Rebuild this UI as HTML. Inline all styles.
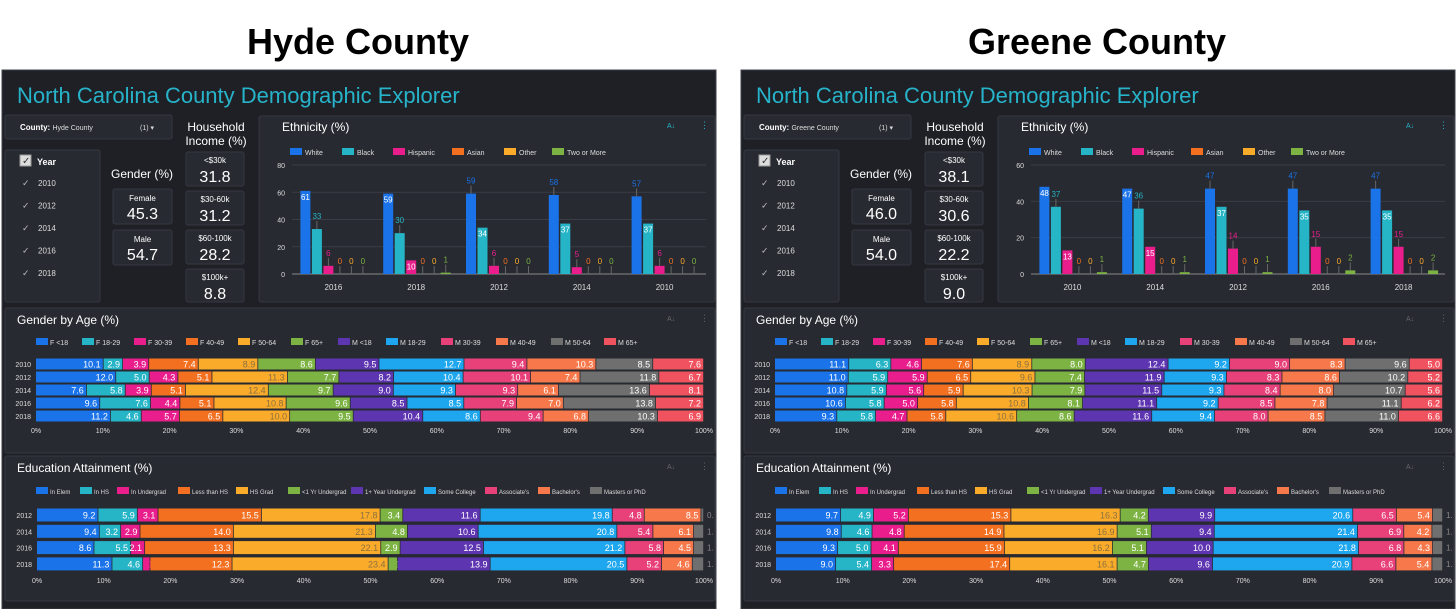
<!DOCTYPE html>
<html><head><meta charset="utf-8">
<style>
html,body{margin:0;padding:0;background:#fff;width:1456px;height:609px;overflow:hidden;font-family:"Liberation Sans",sans-serif}
svg{display:block}
text{font-family:"Liberation Sans",sans-serif}
</style></head>
<body>
<svg id="root" width="1456" height="609" viewBox="0 0 1456 609">
<text x="358" y="54" text-anchor="middle" font-size="36" font-weight="bold" fill="#000">Hyde County</text>
<text x="1097" y="54" text-anchor="middle" font-size="36" font-weight="bold" fill="#000">Greene County</text>
</svg>
<script>
// ---------- DATA ----------
const ethSeries = ["White","Black","Hispanic","Asian","Other","Two or More"];
const ethColors = ["#1a73e8","#26b5c6","#e91e8c","#f37021","#fbab2a","#7cb342"];
const hydeEthCats = ["2016","2018","2012","2014","2010"];
const hydeWhite = [61,59,59,58,57];
const hydeBlack = [33,30,34,37,37];
const hydeHispanic = [6,10,6,5,6];
const hydeAsian = [0,0,0,0,0];
const hydeOther = [0,0,0,0,0];
const hydeTwo = [0,1,0,0,0];
const hydeEthTicks = [0,20,40,60,80];
const greeneEthCats = ["2010","2014","2012","2016","2018"];
const greeneWhite = [48,47,47,47,47];
const greeneBlack = [37,36,37,35,35];
const greeneHispanic = [13,15,14,15,15];
const greeneAsian = [0,0,0,0,0];
const greeneOther = [0,0,0,0,0];
const greeneTwo = [1,1,1,2,2];
const greeneEthTicks = [0,20,40,60];

const ageSeries = ["F <18","F 18-29","F 30-39","F 40-49","F 50-64","F 65+","M <18","M 18-29","M 30-39","M 40-49","M 50-64","M 65+"];
const ageColors = ["#1a73e8","#26b5c6","#e91e8c","#f37021","#fbab2a","#7cb342","#5e35b1","#1ea7ef","#e8417a","#f7784a","#6f6f6f","#f0525f"];
const ageYears = ["2010","2012","2014","2016","2018"];
const hydeAge2010 = [10.1,2.9,3.9,7.4,8.9,8.6,9.5,12.7,9.4,10.3,8.5,7.6];
const hydeAge2012 = [12.0,5.0,4.3,5.1,11.3,7.7,8.2,10.4,10.1,7.4,11.8,6.7];
const hydeAge2014 = [7.6,5.8,3.9,5.1,12.4,9.7,9.0,9.3,9.3,6.1,13.6,8.1];
const hydeAge2016 = [9.6,7.6,4.4,5.1,10.8,9.6,8.5,8.5,7.9,7.0,13.8,7.2];
const hydeAge2018 = [11.2,4.6,5.7,6.5,10.0,9.5,10.4,8.6,9.4,6.8,10.3,6.9];
const greeneAge2010 = [11.1,6.3,4.6,7.6,8.9,8.0,12.4,9.2,9.0,8.3,9.6,5.0];
const greeneAge2012 = [11.0,5.9,5.9,6.5,9.6,7.4,11.9,9.3,8.3,8.6,10.2,5.2];
const greeneAge2014 = [10.8,5.9,5.6,5.9,10.3,7.9,11.5,9.3,8.4,8.0,10.7,5.6];
const greeneAge2016 = [10.6,5.8,5.0,5.8,10.8,8.1,11.1,9.2,8.5,7.8,11.1,6.2];
const greeneAge2018 = [9.3,5.8,4.7,5.8,10.6,8.6,11.6,9.4,8.0,8.5,11.0,6.6];

const eduSeries = ["In Elem","In HS","In Undergrad","Less than HS","HS Grad","<1 Yr Undergrad","1+ Year Undergrad","Some College","Associate's","Bachelor's","Masters or PhD"];
const eduColors = ["#1a73e8","#26b5c6","#e91e8c","#f37021","#fbab2a","#7cb342","#5e35b1","#1ea7ef","#e8417a","#f7784a","#6f6f6f"];
const eduYears = ["2012","2014","2016","2018"];
const hydeEdu2012 = [9.2,5.9,3.1,15.5,17.8,3.4,11.6,19.8,4.8,8.5,0.4];
const hydeEdu2014 = [9.4,3.2,2.9,14.0,21.3,4.8,10.6,20.8,5.4,6.1,1.5];
const hydeEdu2016 = [8.6,5.5,2.1,13.3,22.1,2.9,12.5,21.2,5.8,4.5,1.5];
const hydeEdu2018 = [11.3,4.6,1.1,12.3,23.4,1.4,13.9,20.5,5.2,4.6,1.7];
const greeneEdu2012 = [9.7,4.9,5.2,15.3,16.3,4.2,9.9,20.6,6.5,5.4,1.5];
const greeneEdu2014 = [9.8,4.6,4.8,14.9,16.9,5.1,9.4,21.4,6.9,4.2,1.6];
const greeneEdu2016 = [9.3,5.0,4.1,15.9,16.2,5.1,10.0,21.8,6.8,4.3,1.5];
const greeneEdu2018 = [9.0,5.4,3.3,17.4,16.1,4.7,9.6,20.9,6.6,5.4,1.6];

const pctTicks = [0,10,20,30,40,50,60,70,80,90,100];
const yearList = ["2010","2012","2014","2016","2018"];
const incomeLabels = ["<$30k","$30-60k","$60-100k","$100k+"];
const hydeIncome = [31.8,31.2,28.2,8.8];
const greeneIncome = [38.1,30.6,22.2,9.0];
const hydeGender = [45.3,54.7];
const greeneGender = [46.0,54.0];

// ---------- HELPERS ----------
const NS="http://www.w3.org/2000/svg";
const root=document.getElementById('root');
function mk(tag,attrs,parent){const e=document.createElementNS(NS,tag);for(const k in attrs)e.setAttribute(k,attrs[k]);(parent||root).appendChild(e);return e;}
function txt(parent,x,y,s,size,fill,extra){const t=mk('text',Object.assign({x:x,y:y,'font-size':size,fill:fill},extra||{}),parent);t.textContent=s;return t;}

function drawDashboard(dx, name, county, eth, ethCats, ethTicks, ageRows, eduRows, income, gender){
  const g=mk('g',{transform:'translate('+dx+',0)'});
  
  
  const bg=mk('rect',{x:2,y:70,width:714,height:539,fill:'#1e2026',stroke:'#3d4048'},g);
  
  
  const title=txt(g,17,103,'North Carolina County Demographic Explorer',22,'#27b3c9');
  
  
  function panel(x,y,w,h,n,inter){const r=mk('rect',{x:x,y:y,width:w,height:h,fill:'#272a31',stroke:'#353841',rx:2},g);
    
    return r;}
  // county dropdown
  panel(5,115,167,24,'county-dropdown',true);
  const ct=txt(g,20,130,'',8,'#fff');ct.innerHTML='<tspan font-weight="bold">County:</tspan> <tspan font-size="7" fill="#ddd">'+county+'</tspan>';
  
  
  txt(g,140,130,'(1)  \u25BE',7,'#ddd');
  // year list
  panel(5,150,95,152,'year-filter',false);
  const cb=mk('rect',{x:20,y:155,width:11,height:11,fill:'#ddd',stroke:'#999'},g);
  
  
  txt(g,22,164,'\u2713',10,'#333');
  txt(g,37,165,'Year',9,'#fff',{'font-weight':'bold'});
  yearList.forEach((y,i)=>{const yy=186+i*22.5;
    txt(g,22,yy,'\u2713',9,'#bbb');
    const t=txt(g,38,yy,y,8,'#ddd');
    
    });
  // gender
  txt(g,142,178,'Gender (%)',12,'#fff',{'text-anchor':'middle'});
  ['Female','Male'].forEach((l,i)=>{const y=189+i*41;
    panel(113,y,59,35,'gender-'+l.toLowerCase()+'-card',false);
    txt(g,142.5,y+12,l,8,'#fff',{'text-anchor':'middle'});
    txt(g,142.5,y+30,gender[i].toFixed(1),16,'#fff',{'text-anchor':'middle'});});
  // income
  txt(g,216,131,'Household',12,'#fff',{'text-anchor':'middle'});
  txt(g,216,145,'Income (%)',12,'#fff',{'text-anchor':'middle'});
  incomeLabels.forEach((l,i)=>{const y=152+i*39;
    panel(186,y,58,i==3?33:34,'income-card-'+i,false);
    txt(g,215,y+11,l,8,'#fff',{'text-anchor':'middle'});
    txt(g,215,y+30,income[i].toFixed(1),16,'#fff',{'text-anchor':'middle'});});
  // ethnicity
  panel(259,116,456,186,'ethnicity-panel',false);
  txt(g,282,131,'Ethnicity (%)',12,'#fff');
  txt(g,667,128,'A\u2193',7,'#27b3c9');
  txt(g,700,128,'\u22EE',9,'#27b3c9');
  const legX=[290,342,393,452,504,552];
  ethSeries.forEach((s,i)=>{mk('rect',{x:legX[i],y:148,width:12,height:7,fill:ethColors[i]},g);
    const t=txt(g,legX[i]+15,155,s,7,'#ddd');
    
    });
  const eMax=ethTicks[ethTicks.length-1];
  const y0=274,yTop=165;
  const ey=v=>y0-(v/eMax)*(y0-yTop);
  ethTicks.forEach(t=>{mk('line',{x1:292,x2:706,y1:ey(t),y2:ey(t),stroke:t==0?'#888':'#3a3d45','stroke-width':1},g);
    txt(g,285,ey(t)+3,String(t),7,'#ddd',{'text-anchor':'end'});});
  const band=(706-292)/ethCats.length;
  const ex=i=>292+band*(i+0.5);
  ethCats.forEach((c,ci)=>{
    txt(g,ex(ci),290,c,8,'#ddd',{'text-anchor':'middle'});
    eth.forEach((ser,si)=>{const v=ser[ci];const bx=ex(ci)-33+si*11.5;
      const r=mk('rect',{x:bx,y:ey(v),width:10,height:Math.max(y0-ey(v),v>0?0:0),fill:ethColors[si]},g);
      
      
      const inside = v>=8 && !(si==0 && ci>=2 && dx==0) && !(si==1 && ci<2 && dx==0) && !(dx>0 && ((si==0&&ci>=2)||(si==1&&ci<2)||(si==2&&ci>=2)));
      if(inside){txt(g,bx+5,ey(v)+9,String(v),8,'#fff',{'text-anchor':'middle'});}
      else{mk('line',{x1:bx+5,x2:bx+5,y1:ey(v)-8,y2:ey(v),stroke:'#666'},g);
        txt(g,bx+5,ey(v)-10,String(v),8,ethColors[si],{'text-anchor':'middle'});}
    });});
  // stacked bar helper
  function stacked(py,ph,titleS,legS,legX,legY,series,colors,years,rows,rowY,bh,axisY,x0,x1,pre){
    panel(5,py,710,ph,pre+'-panel',false);
    txt(g,17,py+16,titleS,12,'#fff');
    txt(g,667,py+13,'A\u2193',7,'#666');
    txt(g,700,py+13,'\u22EE',9,'#666');
    series.forEach((s,i)=>{mk('rect',{x:legX[i],y:legY-5,width:12,height:7,fill:colors[i]},g);
      const t=txt(g,legX[i]+14,legY+2,s,legS,'#ddd');
      
      });
    const sx=v=>x0+(x1-x0)*v/100;
    pctTicks.forEach(t=>txt(g,sx(t),axisY,t+'%',7,'#ddd',{'text-anchor':'middle'}));
    rows.forEach((row,ri)=>{const cy=rowY[0]+ri*(rowY[1]-rowY[0]);
      txt(g,x0-5,cy+3,years[ri],7,'#ddd',{'text-anchor':'end'});
      const tot=row.reduce((a,b)=>a+b,0);let acc=0;
      row.forEach((v,si)=>{const a=sx(acc/tot*100),b=sx((acc+v)/tot*100);acc+=v;
        const r=mk('rect',{x:a,y:cy-bh/2,width:Math.max(b-a-0.8,0.5),height:bh,fill:colors[si]},g);
        
        
        const w=b-a;
        if(si==series.length-1 && w<14 && pre=='education'){txt(g,x1+3,cy+3,v.toFixed(1).slice(0,2),8,'#888');}
        else if(w>=13){txt(g,b-3,cy+3.5,v.toFixed(1),9,si==4?'#8a7040':'#fff',{'text-anchor':'end'});}
        else if(w>=7){txt(g,b+10,cy+3.5,v.toFixed(1),9,colors[si],{'text-anchor':'end'});}
      });});
  }
  stacked(308,145,'Gender by Age (%)',7,[36,82,134,186,238,291,338,386,441,496,551,604],343,ageSeries,ageColors,ageYears,ageRows,[364,377],11,433,36,704,'gender-age');
  stacked(456,145,'Education Attainment (%)',6,[36,80,117,178,236,288,351,424,485,538,590],492,eduSeries,eduColors,eduYears,eduRows,[515,531.3],13,583,37,704,'education');
}

drawDashboard(0,'hyde','Hyde County',
  [hydeWhite,hydeBlack,hydeHispanic,hydeAsian,hydeOther,hydeTwo],hydeEthCats,hydeEthTicks,
  [hydeAge2010,hydeAge2012,hydeAge2014,hydeAge2016,hydeAge2018],
  [hydeEdu2012,hydeEdu2014,hydeEdu2016,hydeEdu2018],hydeIncome,hydeGender);
drawDashboard(739,'greene','Greene County',
  [greeneWhite,greeneBlack,greeneHispanic,greeneAsian,greeneOther,greeneTwo],greeneEthCats,greeneEthTicks,
  [greeneAge2010,greeneAge2012,greeneAge2014,greeneAge2016,greeneAge2018],
  [greeneEdu2012,greeneEdu2014,greeneEdu2016,greeneEdu2018],greeneIncome,greeneGender);
</script>
</body></html>
